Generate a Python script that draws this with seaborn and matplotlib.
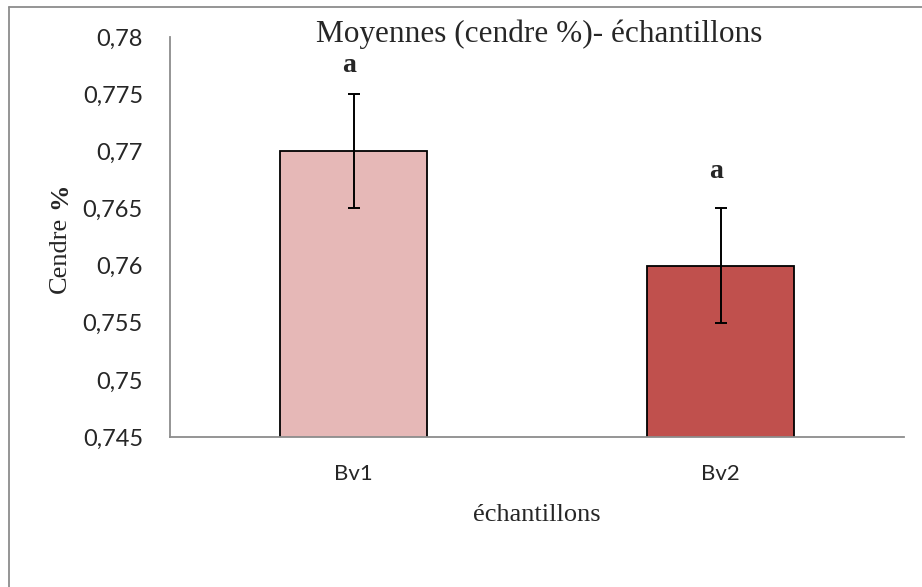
import matplotlib
matplotlib.use("Agg")
import matplotlib.pyplot as plt
from matplotlib.lines import Line2D
from matplotlib.ticker import FuncFormatter
import seaborn as sns
import pandas as pd

samples = ["Bv1", "Bv2"]
means = [0.770, 0.760]
errors = [0.005, 0.005]
letters = ["a", "a"]
colors = ["#E6B8B7", "#C0504D"]
y_ticks = [0.745, 0.75, 0.755, 0.76, 0.765, 0.77, 0.775, 0.78]

# vertical gap between the error-bar cap and the group letter
letter_gap = [0.0019, 0.0027]

df = pd.DataFrame({"échantillon": samples, "cendre": means})

sns.set_style("white")
plt.rcParams["font.family"] = ["Liberation Serif", "DejaVu Serif"]

fig = plt.figure(figsize=(9.22, 5.87), dpi=100)
ax = fig.add_axes([170 / 922, 1 - 437 / 587, (904 - 170) / 922, (437 - 37) / 587])

sns.barplot(data=df, x="échantillon", y="cendre", hue="échantillon",
            palette=colors, saturation=1, legend=False, width=0.403,
            edgecolor="black", linewidth=1.3, errorbar=None, ax=ax)

ax.errorbar(range(len(samples)), means, yerr=errors, fmt="none",
            ecolor="black", elinewidth=1.4, capsize=4, capthick=1.4)

for i, (m, e, lab, g) in enumerate(zip(means, errors, letters, letter_gap)):
    ax.text(i - 0.012, m + e + g, lab, ha="center", va="baseline",
            fontsize=20, fontweight="bold", family="Liberation Serif")

ax.set_ylim(0.745, 0.78)
ax.set_xlim(-0.5, 1.5)
ax.set_yticks(y_ticks)
ax.yaxis.set_major_formatter(FuncFormatter(lambda v, _: f"{v:g}".replace(".", ",")))
ax.tick_params(axis="both", length=0)
ax.tick_params(axis="y", pad=19.5)
ax.tick_params(axis="x", pad=19.5)
for lbl in ax.get_yticklabels():
    lbl.set_family("Lato")
    lbl.set_fontsize(17)
for lbl in ax.get_xticklabels():
    lbl.set_family("Lato")
    lbl.set_fontsize(16)

for side in ["top", "right"]:
    ax.spines[side].set_visible(False)
for side in ["left", "bottom"]:
    ax.spines[side].set_color("#8C8C8C")
    ax.spines[side].set_linewidth(1.3)

ax.set_xlabel("")
ax.set_ylabel("")
fig.text(537 / 922, 1 - 515 / 587, "échantillons", ha="center", va="center",
         fontsize=19)
fig.text(60 / 922, 1 - 255 / 587, "Cendre", ha="center", va="center",
         rotation=90, fontsize=19)
fig.text(60 / 922, 1 - 196 / 587, "%", ha="center", va="center",
         rotation=90, fontsize=19, fontweight="bold")
fig.text(539 / 922, 1 - 42 / 587, "Moyennes (cendre %)- échantillons",
         ha="center", va="baseline", fontsize=22.5)

# chart area frame (left and top edges)
frame_kw = dict(transform=fig.transFigure, color="#8C8C8C", lw=1.3)
fig.add_artist(Line2D([9 / 922, 9 / 922], [0, 1 - 7 / 587], **frame_kw))
fig.add_artist(Line2D([9 / 922, 1], [1 - 7 / 587, 1 - 7 / 587], **frame_kw))

fig.savefig("out.png", dpi=100)
